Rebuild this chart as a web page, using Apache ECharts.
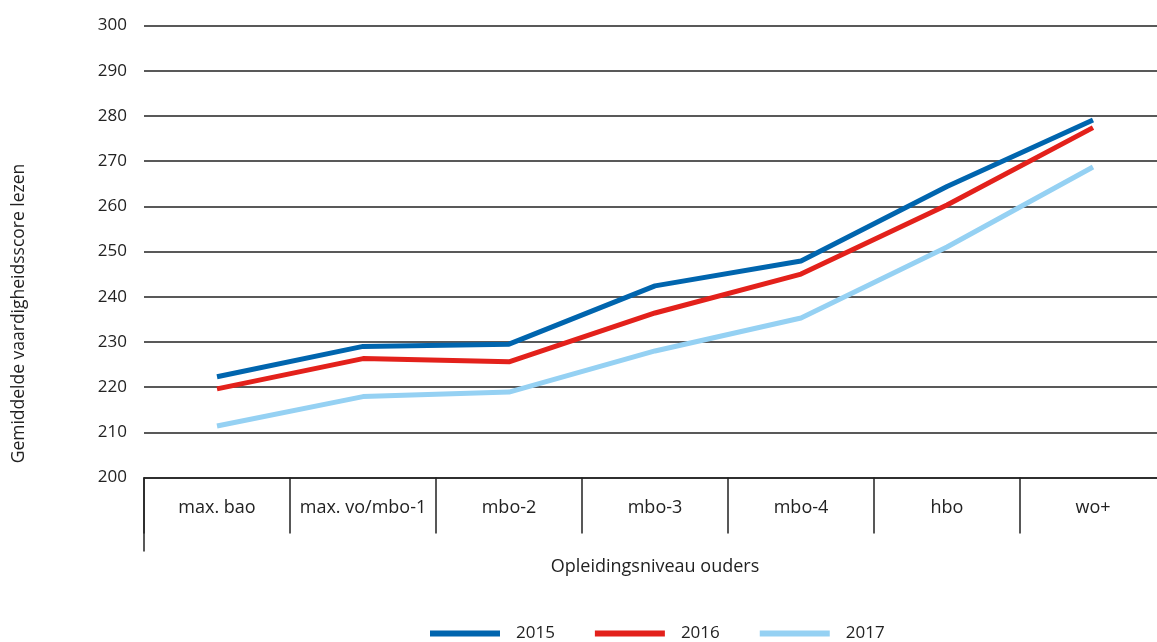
<!DOCTYPE html>
<html>
<head>
<meta charset="utf-8">
<script src="https://cdn.jsdelivr.net/npm/echarts@6/dist/echarts.min.js"></script>
<style>
    html, body { margin: 0; padding: 0; background: #fff; }
    #chart { width: 1157px; height: 642px; }
</style>
</head>
<body>
<div id="chart"></div>
<script>
var categories = ['max. bao', 'max. vo/mbo-1', 'mbo-2', 'mbo-3', 'mbo-4', 'hbo', 'wo+'];
var years = ['2015', '2016', '2017'];
var scores2015 = [222.3, 229.0, 229.5, 242.4, 247.9, 264.4, 279.1];
var scores2016 = [219.6, 226.3, 225.6, 236.4, 245.0, 260.3, 277.4];
var scores2017 = [211.4, 217.9, 218.9, 228.0, 235.3, 251.0, 268.7];
var yTicks = [200, 210, 220, 230, 240, 250, 260, 270, 280, 290, 300];

var colors = ['#0065ae', '#e3211b', '#95d1f3'];
var font = 'Open Sans';

var chart = echarts.init(document.getElementById('chart'));

// lijn per jaar
function makeSeries(name, data, color) {
    return {
        name: name,
        type: 'line',
        data: data,
        symbol: 'none',
        smooth: false,
        lineStyle: { color: color, width: 5 },
        itemStyle: { color: color }
    };
}

var option = {
    animation: false,
    textStyle: { fontFamily: font },
    grid: { left: 144, top: 25.5, width: 1022, height: 452, outerBoundsMode: 'none', containLabel: false },
    legend: {
        top: 620,
        left: 425,
        icon: 'rect',
        itemWidth: 70,
        itemHeight: 6,
        itemGap: 40,
        data: years,
        textStyle: { fontFamily: font, fontSize: 17, color: '#222', padding: [0, 0, 0, 11] }
    },
    xAxis: {
        type: 'category',
        data: categories,
        boundaryGap: true,
        name: 'Opleidingsniveau ouders',
        nameLocation: 'middle',
        nameGap: 80,
        nameTextStyle: { fontSize: 18, color: '#222' },
        axisLine: { lineStyle: { color: '#222', width: 1.5 } },
        axisTick: { show: true, interval: 0, length: 56, lineStyle: { color: '#222', width: 1.5 } },
        axisLabel: { interval: 0, margin: 21, fontSize: 18, color: '#222' }
    },
    yAxis: {
        type: 'value',
        min: yTicks[0],
        max: yTicks[yTicks.length - 1],
        interval: 10,
        name: 'Gemiddelde vaardigheidsscore lezen',
        nameLocation: 'middle',
        nameGap: 116,
        nameTextStyle: { fontSize: 17.5, color: '#222', padding: [0, 124, 0, 0] },
        axisLine: { show: false },
        axisTick: { show: false },
        axisLabel: { margin: 17, fontSize: 17, color: '#222' },
        splitLine: { lineStyle: { color: '#222', width: 1.5 } }
    },
    series: [
        makeSeries(years[0], scores2015, colors[0]),
        makeSeries(years[1], scores2016, colors[1]),
        makeSeries(years[2], scores2017, colors[2])
    ]
};

chart.setOption(option);

// langere eerste streep onder de as
var p = chart.convertToPixel({ gridIndex: 0 }, [0, yTicks[0]]);
var x0 = 144;
chart.setOption({
    graphic: [{
        type: 'line',
        shape: { x1: x0, y1: p[1], x2: x0, y2: p[1] + 74 },
        style: { stroke: '#222', lineWidth: 1.5 }
    }]
});
</script>
</body>
</html>
